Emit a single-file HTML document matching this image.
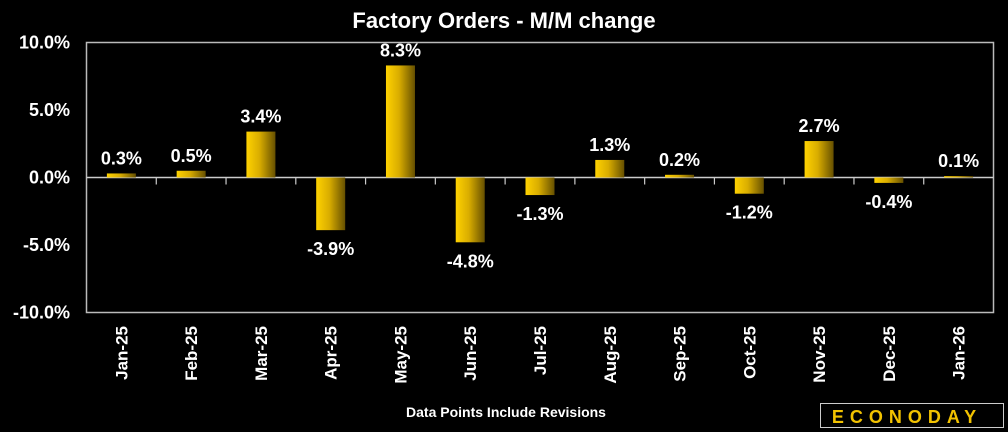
<!DOCTYPE html>
<html><head><meta charset="utf-8"><style>
html,body{margin:0;padding:0;background:#000;width:1008px;height:432px;overflow:hidden}
svg text{font-family:"Liberation Sans","DejaVu Sans",sans-serif;fill:#fff}
</style></head><body>
<svg id="chart" width="1008" height="432" viewBox="0 0 1008 432">
<defs><linearGradient id="g" x1="0" x2="1" y1="0" y2="0"><stop offset="0" stop-color="#ffd200"/><stop offset="0.45" stop-color="#d9ad00"/><stop offset="1" stop-color="#665000"/></linearGradient></defs>
<text x="504" y="28" text-anchor="middle" font-size="22" font-weight="bold">Factory Orders - M/M change</text>
<rect x="86.5" y="42.5" width="907" height="270" fill="none" stroke="#bbb" stroke-width="1.5"/>
<g id="bars"></g>
<text x="506" y="417" text-anchor="middle" font-size="14" font-weight="bold">Data Points Include Revisions</text>
<g>
<rect x="820.5" y="403.5" width="183" height="24" fill="#000" stroke="#ccc" stroke-width="1"/>
<text x="907" y="423" text-anchor="middle" font-size="18" font-weight="bold" letter-spacing="6" style="fill:#f2c200">ECONODAY</text>
</g>
</svg>
<script>
const categories=["Jan-25","Feb-25","Mar-25","Apr-25","May-25","Jun-25","Jul-25","Aug-25","Sep-25","Oct-25","Nov-25","Dec-25","Jan-26"];
const values=[0.3,0.5,3.4,-3.9,8.3,-4.8,-1.3,1.3,0.2,-1.2,2.7,-0.4,0.1];
const yTicks=[10,5,0,-5,-10];
const ns="http://www.w3.org/2000/svg";
const svg=document.getElementById('chart');const g=document.getElementById('bars');
const L=86.5,R=993.5,T=42.5,B=312.5;
const y=v=>T+(10-v)/20*(B-T);
const bw=(R-L)/categories.length;
const x=i=>L+bw*(i+0.5);
function mk(t,a){const e=document.createElementNS(ns,t);for(const k in a)e.setAttribute(k,a[k]);return e;}
yTicks.forEach(v=>{const t=mk('text',{x:70,y:y(v)+6,'text-anchor':'end','font-size':18,'font-weight':'bold'});t.textContent=v.toFixed(1)+'%';


svg.appendChild(t);});
const ax=mk('line',{x1:L,x2:R,y1:y(0),y2:y(0),stroke:'#ccc','stroke-width':1.5});


g.appendChild(ax);
for(let i=1;i<categories.length;i++){const tk=mk('line',{x1:L+bw*i,x2:L+bw*i,y1:y(0),y2:y(0)+7,stroke:'#ccc','stroke-width':1.2});


g.appendChild(tk);}
values.forEach((v,i)=>{
const w=29,y0=y(0),y1=y(v);
const r=mk('rect',{x:x(i)-w/2,y:Math.min(y0,y1),width:w,height:Math.max(Math.abs(y1-y0),1),fill:'url(#g)'});


g.appendChild(r);
const lb=mk('text',{x:x(i),y:v>=0?y1-9:y1+25,'text-anchor':'middle','font-size':18,'font-weight':'bold'});
lb.textContent=v.toFixed(1)+'%';


g.appendChild(lb);
const cl=mk('text',{x:0,y:0,'text-anchor':'end','font-size':17,'font-weight':'bold',transform:`translate(${x(i)+6},${326}) rotate(-90)`});
cl.textContent=categories[i];


g.appendChild(cl);
});
</script>
</body></html>
